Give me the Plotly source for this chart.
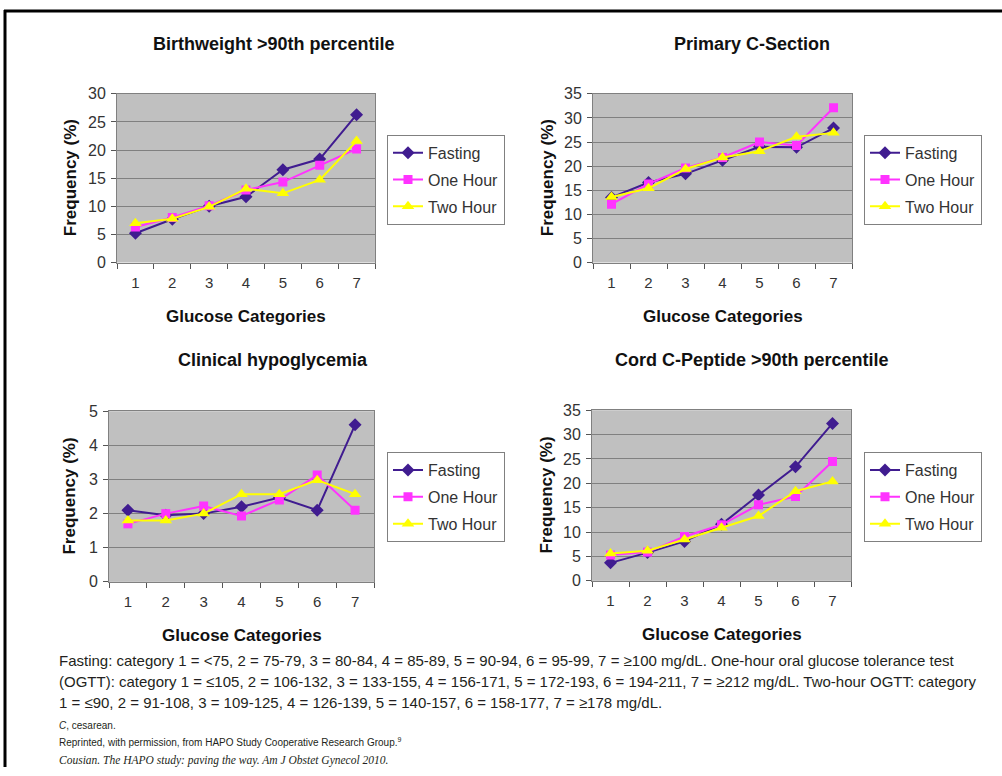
import plotly.graph_objects as go

# Glucose categories shared by every panel
categories = ["1", "2", "3", "4", "5", "6", "7"]
series_names = ["Fasting", "One Hour", "Two Hour"]

# Birthweight >90th percentile (%)
bw_fasting = [5.2, 7.7, 10.0, 11.7, 16.5, 18.4, 26.3]
bw_one_hour = [6.3, 8.0, 10.1, 12.9, 14.3, 17.3, 20.2]
bw_two_hour = [7.0, 7.8, 9.9, 13.1, 12.3, 14.7, 21.6]

# Primary C-section (%)
cs_fasting = [13.5, 16.6, 18.4, 21.2, 24.0, 23.9, 27.9]
cs_one_hour = [12.1, 16.3, 19.6, 21.8, 25.0, 24.3, 32.1]
cs_two_hour = [13.6, 15.4, 19.4, 21.8, 23.1, 26.1, 26.9]

# Clinical hypoglycemia (%)
hg_fasting = [2.1, 1.95, 2.0, 2.2, 2.47, 2.1, 4.6]
hg_one_hour = [1.7, 2.0, 2.22, 1.93, 2.4, 3.13, 2.1]
hg_two_hour = [1.8, 1.8, 2.0, 2.57, 2.57, 2.98, 2.57]

# Cord C-peptide >90th percentile (%)
cp_fasting = [3.7, 5.8, 8.1, 11.6, 17.6, 23.4, 32.3]
cp_one_hour = [5.3, 5.9, 9.1, 11.5, 15.6, 17.3, 24.5]
cp_two_hour = [5.6, 6.2, 8.5, 10.9, 13.3, 18.4, 20.4]

panel_titles = [
    "Birthweight >90th percentile",
    "Primary C-Section",
    "Clinical hypoglycemia",
    "Cord C-Peptide >90th percentile",
]
y_ranges = [(0, 30, 5), (0, 35, 5), (0, 5, 1), (0, 35, 5)]
panel_data = [
    (bw_fasting, bw_one_hour, bw_two_hour),
    (cs_fasting, cs_one_hour, cs_two_hour),
    (hg_fasting, hg_one_hour, hg_two_hour),
    (cp_fasting, cp_one_hour, cp_two_hour),
]

footer_lines = [
    "Fasting: category 1 = <75, 2 = 75-79, 3 = 80-84, 4 = 85-89, 5 = 90-94, 6 = 95-99, 7 = \u2265100 mg/dL. One-hour oral glucose tolerance test",
    "(OGTT): category 1 = \u2264105, 2 = 106-132, 3 = 133-155, 4 = 156-171, 5 = 172-193, 6 = 194-211, 7 = \u2265212 mg/dL. Two-hour OGTT: category",
    "1 = \u226490, 2 = 91-108, 3 = 109-125, 4 = 126-139, 5 = 140-157, 6 = 158-177, 7 = \u2265178 mg/dL.",
]

W, H = 1002, 776
# plot boxes in pixels: left, right, top, bottom
boxes = [
    (117, 375, 94, 263),
    (593, 852, 94, 263),
    (109, 374, 412, 583),
    (592, 851, 411, 582),
]
legend_pos = [(387, 135), (864, 135), (387, 453), (864, 453)]
title_pos = [(274, 44), (752, 44), (273, 361), (752, 361)]
ytitle_x = [70, 547, 70, 547]

colors = ["#401c90", "#ff33ff", "#ffff00"]
symbols = ["diamond", "square", "triangle-up"]
msizes = [10, 9, 11]

SANS = "Liberation Sans, Arial, sans-serif"
NARROW = "Liberation Sans Narrow, Arial Narrow, Liberation Sans, sans-serif"


def px_x(v):
    return v / W


def px_y(v):
    # vertical page position (pixels from top) to paper fraction
    return 1 - ((v - 8) / 0.98) / H


fig = go.Figure()
layout = dict(
    width=W,
    height=H,
    margin=dict(l=0, r=0, t=0, b=0),
    paper_bgcolor="white",
    plot_bgcolor="#c0c0c0",
    showlegend=True,
    font=dict(family=SANS, color="#333333"),
)
annotations = []

for i, (box, data) in enumerate(zip(boxes, panel_data)):
    n = i + 1
    xa = "x" if n == 1 else f"x{n}"
    ya = "y" if n == 1 else f"y{n}"
    leg = "legend" if n == 1 else f"legend{n}"
    for j, vals in enumerate(data):
        fig.add_trace(go.Scatter(
            x=categories, y=vals, name=series_names[j],
            mode="lines+markers",
            line=dict(color=colors[j], width=2),
            marker=dict(symbol=symbols[j], size=msizes[j], color=colors[j]),
            xaxis=xa, yaxis=ya, legend=leg,
            legendgroup=f"p{n}-{j}",
        ))
    l, r, t, b = box
    lo, hi, step = y_ranges[i]
    layout[f"xaxis{'' if n == 1 else n}"] = dict(
        domain=[px_x(l), px_x(r)], anchor=ya, type="category",
        categoryorder="array", categoryarray=categories,
        range=[-0.5, 6.5], tickson="boundaries", ticks="outside", ticklen=5,
        tickcolor="#555555", showgrid=False, showline=True, linecolor="#808080",
        linewidth=1, mirror=True, zeroline=False, ticklabelstandoff=6,
        tickfont=dict(family=SANS, size=15, color="#333333"),
    )
    layout[f"yaxis{'' if n == 1 else n}"] = dict(
        domain=[px_y(b), px_y(t)], anchor=xa, range=[lo, hi], dtick=step,
        ticks="outside", ticklen=5, tickcolor="#555555", showgrid=True,
        gridcolor="#808080", gridwidth=1, showline=True, linecolor="#808080",
        linewidth=1, mirror=True, zeroline=False, ticklabelstandoff=2,
        tickfont=dict(family=SANS, size=16, color="#333333"),
    )
    lx, ly = legend_pos[i]
    layout[leg] = dict(
        x=px_x(lx), y=px_y(ly), xanchor="left", yanchor="top",
        bgcolor="white", bordercolor="#808080", borderwidth=1,
        font=dict(family=SANS, size=16, color="#333333"),
        tracegroupgap=3, itemwidth=30,
    )
    cx = (l + r) / 2
    tx, ty = title_pos[i]
    # panel title
    annotations.append(dict(
        text=f"<b>{panel_titles[i]}</b>", x=px_x(tx), y=px_y(ty),
        xref="paper", yref="paper", showarrow=False,
        xanchor="center", yanchor="middle",
        font=dict(family=SANS, size=18, color="#111111"),
    ))
    # x axis title
    annotations.append(dict(
        text="<b>Glucose Categories</b>", x=px_x(cx), y=px_y(b + 54),
        xref="paper", yref="paper", showarrow=False,
        xanchor="center", yanchor="middle",
        font=dict(family=SANS, size=17, color="#111111"),
    ))
    # y axis title
    annotations.append(dict(
        text="<b>Frequency (%)</b>", x=px_x(ytitle_x[i]), y=px_y((t + b) / 2),
        xref="paper", yref="paper", showarrow=False, textangle=-90,
        xanchor="center", yanchor="middle",
        font=dict(family=SANS, size=17, color="#111111"),
    ))

for k, line in enumerate(footer_lines):
    annotations.append(dict(
        text=line, x=px_x(57), y=px_y(662 + 21 * k), xref="paper", yref="paper",
        showarrow=False, xanchor="left", yanchor="middle",
        font=dict(family=NARROW, size=15, color="#231f20"),
    ))
annotations.append(dict(
    text="<i>C</i>, cesarean.", x=px_x(57), y=px_y(727), xref="paper", yref="paper",
    showarrow=False, xanchor="left", yanchor="middle",
    font=dict(family=NARROW, size=10, color="#231f20"),
))
annotations.append(dict(
    text="Reprinted, with permission, from HAPO Study Cooperative Research Group.<sup>9</sup>",
    x=px_x(57), y=px_y(743), xref="paper", yref="paper",
    showarrow=False, xanchor="left", yanchor="middle",
    font=dict(family=NARROW, size=10, color="#231f20"),
))
annotations.append(dict(
    text="<i>Cousian. The HAPO study: paving the way. Am J Obstet Gynecol 2010.</i>",
    x=px_x(57), y=px_y(762), xref="paper", yref="paper",
    showarrow=False, xanchor="left", yanchor="middle",
    font=dict(family="Liberation Serif, Times New Roman, serif", size=11.5, color="#231f20"),
))

layout["annotations"] = annotations
# frame lines along the top and left edge
layout["shapes"] = [
    dict(type="line", xref="paper", yref="paper", x0=px_x(4), x1=1.0,
         y0=px_y(11), y1=px_y(11), line=dict(color="black", width=3)),
    dict(type="line", xref="paper", yref="paper", x0=px_x(5), x1=px_x(5),
         y0=px_y(10), y1=0, line=dict(color="black", width=3)),
]

fig.update_layout(**layout)
fig.write_html(
    "out.html",
    post_script="document.body.style.margin='0';document.body.style.overflow='hidden';",
)
